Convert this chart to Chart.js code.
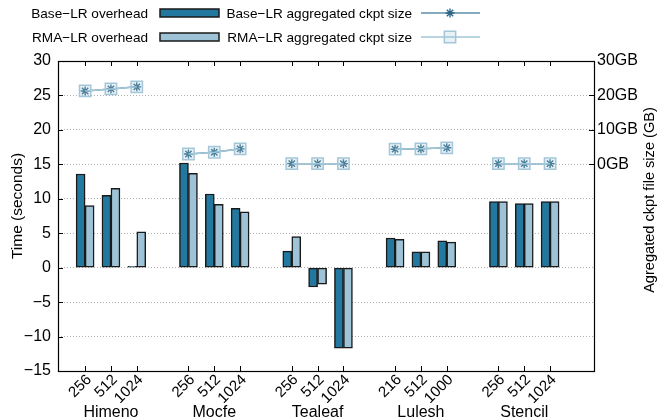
<!DOCTYPE html>
<html>
<head>
<meta charset="utf-8">
<script src="https://cdn.jsdelivr.net/npm/chart.js@4/dist/chart.umd.min.js"></script>
<style>
  html, body { margin: 0; padding: 0; background: #fff; }
  #wrap { width: 664px; height: 419px; }
</style>
</head>
<body>
<div id="wrap"><canvas id="c" width="664" height="419"></canvas></div>
<script>
// ---- data ----
const apps = ['Himeno', 'Mocfe', 'Tealeaf', 'Lulesh', 'Stencil'];
const procs = [
  ['256', '512', '1024'],
  ['256', '512', '1024'],
  ['256', '512', '1024'],
  ['216', '512', '1000'],
  ['256', '512', '1024']
];
const baseOverhead = [13.6, 10.5, 0.2,  15.2, 10.7, 8.6,  2.4, -2.8, -11.7,  4.3, 2.3, 3.9,  9.6, 9.3, 9.6];
const rmaOverhead  = [9.0, 11.5, 5.2,   13.7, 9.2, 8.1,   4.5, -2.4, -11.7,  4.1, 2.3, 3.7,  9.6, 9.3, 9.6];
const baseCkptGB   = [21.3, 21.9, 22.5, 3.0, 3.5, 4.5,    0.2, 0.2, 0.2,     4.4, 4.5, 4.8,  0.2, 0.2, 0.2];
const rmaCkptGB    = [21.3, 21.9, 22.5, 3.0, 3.5, 4.5,    0.2, 0.2, 0.2,     4.4, 4.5, 4.8,  0.2, 0.2, 0.2];
const timeTicks = [-15, -10, -5, 0, 5, 10, 15, 20, 25, 30];
const sizeTicks = [0, 10, 20, 30];
const leftTitle = 'Time (seconds)';
const rightTitle = 'Agregated ckpt file size (GB)';

// ---- build positions (group g, item i -> 4g+i) ----
const xPos = [];
const xLabels = [];
apps.forEach((a, g) => procs[g].forEach((p, i) => { xPos.push(4 * g + i); xLabels.push(p); }));
const groupPos = apps.map((a, g) => 4 * g + 1);

const barData = vals => vals.map((v, k) => ({ x: xPos[k], y: v }));
const lineData = vals => {
  const out = [];
  vals.forEach((v, k) => {
    out.push({ x: xPos[k], y: v });
    if (k % 3 === 2 && k < vals.length - 1) out.push({ x: xPos[k] + 1, y: null });
  });
  return out;
};

const FONT = "'Liberation Sans', Arial, sans-serif";
Chart.defaults.font.family = FONT;
Chart.defaults.font.size = 16;
Chart.defaults.color = '#000';

const BASE_BAR = '#23789f';
const RMA_BAR = '#9ec3d6';
const BAR_BORDER = '#1a1a1a';
const BASE_LINE = '#5d8fa9';
const BASE_MARK = '#2c6686';
const RMA_LINE = '#a3c7d9';

const minus = s => String(s).replace('-', '\u2212');

const frameAndLegend = {
  id: 'frameAndLegend',
  afterDraw(chart) {
    const ctx = chart.ctx;
    const a = chart.chartArea;
    const sx = chart.scales.x, sy = chart.scales.y, sy2 = chart.scales.y2;
    ctx.save();
    // inward tick marks
    ctx.strokeStyle = '#000';
    ctx.lineWidth = 1;
    ctx.beginPath();
    xPos.forEach(v => {
      const px = Math.round(sx.getPixelForValue(v)) + 0.5;
      ctx.moveTo(px, a.bottom); ctx.lineTo(px, a.bottom - 5);
      ctx.moveTo(px, a.top); ctx.lineTo(px, a.top + 5);
    });
    timeTicks.forEach(v => {
      const py = Math.round(sy.getPixelForValue(v)) + 0.5;
      ctx.moveTo(a.left, py); ctx.lineTo(a.left + 5, py);
    });
    sizeTicks.forEach(v => {
      const py = Math.round(sy2.getPixelForValue(v)) + 0.5;
      ctx.moveTo(a.right, py); ctx.lineTo(a.right - 5, py);
    });
    ctx.stroke();
    // frame
    ctx.lineWidth = 1.2;
    ctx.strokeRect(Math.round(a.left) + 0.5, Math.round(a.top) + 0.5,
                   Math.round(a.right - a.left), Math.round(a.bottom - a.top));

    // axis titles (both read bottom-to-top)
    ctx.fillStyle = '#000';
    ctx.textAlign = 'center';
    ctx.textBaseline = 'middle';
    [[leftTitle, 18, 206, 15.5], [rightTitle, 650, 200, 14.6]].forEach(([t, x, y, fs]) => {
      ctx.save();
      ctx.translate(x, y);
      ctx.rotate(-Math.PI / 2);
      ctx.font = fs + 'px ' + FONT;
      ctx.fillText(t, 0, 0);
      ctx.restore();
    });

    // legend
    const ds = chart.data.datasets;
    ctx.font = '13.6px ' + FONT;
    ctx.textAlign = 'right';
    ctx.textBaseline = 'middle';
    const rows = [13, 37];
    const items = [[ds[0], ds[2]], [ds[1], ds[3]]];
    items.forEach((pair, r) => {
      const y = rows[r];
      const bar = pair[0], line = pair[1];
      ctx.fillStyle = '#000';
      ctx.fillText(bar.label, 148, y + 1);
      ctx.fillStyle = bar.backgroundColor;
      ctx.fillRect(160, y - 4, 59, 8);
      ctx.strokeStyle = BAR_BORDER;
      ctx.lineWidth = 1.5;
      ctx.strokeRect(160, y - 4, 59, 8);
      ctx.fillStyle = '#000';
      ctx.fillText(line.label, 412, y + 1);
      ctx.strokeStyle = line.borderColor;
      ctx.lineWidth = line.borderWidth;
      ctx.beginPath(); ctx.moveTo(421, y); ctx.lineTo(480, y); ctx.stroke();
      ctx.strokeStyle = line.pointBorderColor;
      ctx.fillStyle = line.pointBackgroundColor;
      ctx.lineWidth = line.pointBorderWidth;
      Chart.helpers.drawPoint(ctx, { pointStyle: line.pointStyle, radius: line.pointRadius, borderWidth: line.pointBorderWidth, rotation: 0 }, 450, y);
    });
    ctx.restore();
  }
};

new Chart(document.getElementById('c'), {
  type: 'bar',
  data: {
    datasets: [
      {
        label: 'Base\u2212LR overhead',
        data: barData(baseOverhead),
        backgroundColor: BASE_BAR,
        borderColor: BAR_BORDER,
        borderWidth: 1.5,
        borderSkipped: false,
        barThickness: 9,
        xAxisID: 'x', yAxisID: 'y',
        order: 3
      },
      {
        label: 'RMA\u2212LR overhead',
        data: barData(rmaOverhead),
        backgroundColor: RMA_BAR,
        borderColor: BAR_BORDER,
        borderWidth: 1.5,
        borderSkipped: false,
        barThickness: 9,
        xAxisID: 'x', yAxisID: 'y',
        order: 3
      },
      {
        type: 'line',
        label: 'Base\u2212LR aggregated ckpt size',
        data: lineData(baseCkptGB),
        borderColor: BASE_LINE,
        borderWidth: 1.5,
        pointStyle: 'star',
        pointRadius: 4.5,
        pointBorderColor: BASE_MARK,
        pointBackgroundColor: BASE_MARK,
        pointBorderWidth: 1.4,
        spanGaps: false,
        xAxisID: 'x', yAxisID: 'y2',
        order: 2
      },
      {
        type: 'line',
        label: 'RMA\u2212LR aggregated ckpt size',
        data: lineData(rmaCkptGB),
        borderColor: RMA_LINE,
        borderWidth: 1.5,
        pointStyle: 'rect',
        pointRadius: 8,
        pointBorderColor: RMA_LINE,
        pointBackgroundColor: 'rgba(163,199,217,0.25)',
        pointBorderWidth: 1.5,
        spanGaps: false,
        xAxisID: 'x', yAxisID: 'y2',
        order: 1
      }
    ]
  },
  options: {
    responsive: false,
    animation: false,
    layout: { padding: { top: 61, left: 0, right: 0, bottom: 0 } },
    plugins: { legend: { display: false }, tooltip: { enabled: false } },
    scales: {
      x: {
        type: 'linear',
        position: 'bottom',
        offset: false,
        min: -1.05,
        max: 19.7,
        grid: { display: false, drawTicks: false },
        border: { display: false },
        afterBuildTicks: s => { s.ticks = xPos.map(v => ({ value: v })); },
        afterFit: s => { s.height = 32; },
        ticks: {
          autoSkip: false,
          minRotation: 45,
          maxRotation: 45,
          padding: 0,
          labelOffset: 4,
          font: { size: 15 },
          callback: (v, i) => xLabels[i]
        }
      },
      x2: {
        type: 'linear',
        position: 'bottom',
        offset: false,
        min: -1.05,
        max: 19.7,
        grid: { display: false, drawTicks: false },
        border: { display: false },
        afterBuildTicks: s => { s.ticks = groupPos.map(v => ({ value: v })); },
        afterFit: s => { s.height = 16; },
        ticks: {
          autoSkip: false,
          minRotation: 0,
          maxRotation: 0,
          padding: 0,
          font: { size: 16 },
          callback: (v, i) => apps[i]
        }
      },
      y: {
        type: 'linear',
        position: 'left',
        min: -15,
        max: 30,
        afterBuildTicks: s => { s.ticks = timeTicks.map(v => ({ value: v })); },
        afterFit: s => { s.width = 58; },
        grid: { color: '#b0b0b0', lineWidth: 1, drawTicks: false },
        border: { display: false, dash: [1, 2] },
        ticks: { padding: 7, font: { size: 16 }, callback: v => minus(v) }
      },
      y2: {
        type: 'linear',
        position: 'right',
        min: -60,
        max: 30,
        afterBuildTicks: s => { s.ticks = sizeTicks.map(v => ({ value: v })); },
        afterFit: s => { s.width = 70; },
        grid: { display: false, drawTicks: false },
        border: { display: false },
        ticks: { padding: 3, font: { size: 16 }, callback: v => v + 'GB' }
      }
    }
  },
  plugins: [frameAndLegend]
});
</script>
</body>
</html>
